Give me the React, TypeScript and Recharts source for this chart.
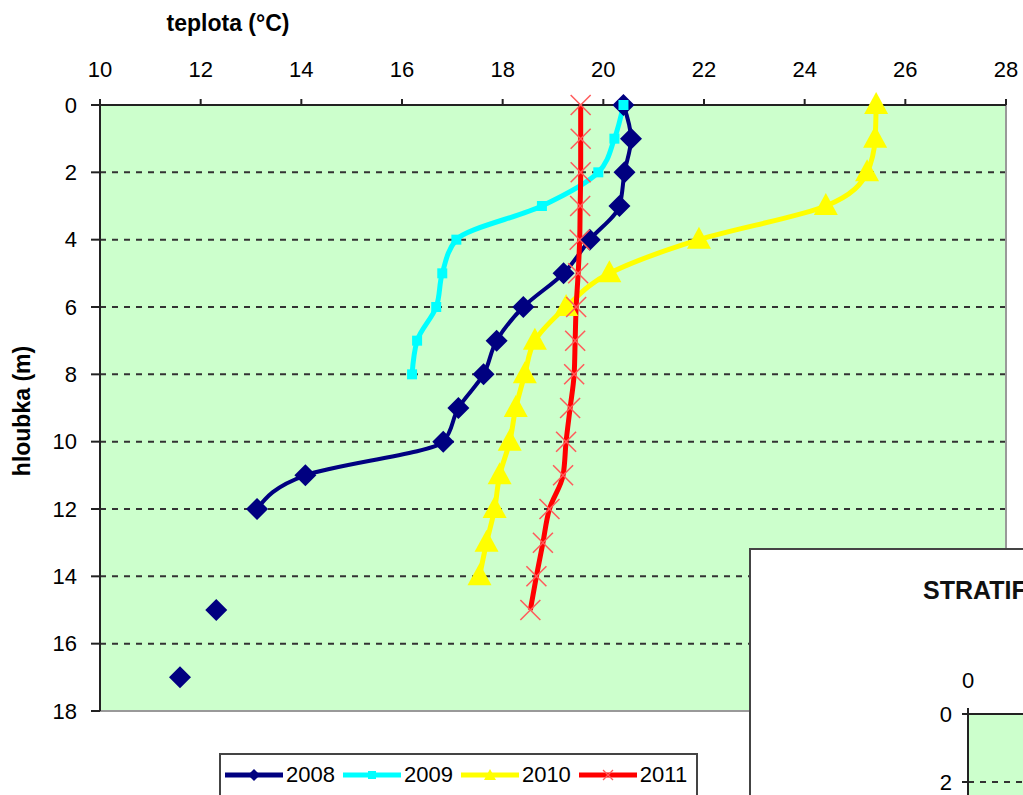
import React from 'react';
import { LineChart, Line, XAxis, YAxis, CartesianGrid, ReferenceLine, Label } from 'recharts';

// depth (m) of each measurement row
const depths = [0, 1, 2, 3, 4, 5, 6, 7, 8, 9, 10, 11, 12, 13, 14, 15, 16, 17];

// temperature (°C) per depth, null = not measured
const t2008 = [20.4, 20.55, 20.42, 20.32, 19.73, 19.21, 18.41, 17.88, 17.62, 17.12, 16.82, 14.08, 13.12, null, null, null, null, null];
// deeper 2008 readings, not joined to the profile
const t2008deep = [null, null, null, null, null, null, null, null, null, null, null, null, null, null, null, 12.31, null, 11.59];
const t2009 = [20.4, 20.22, 19.9, 18.78, 17.08, 16.8, 16.68, 16.3, 16.2, null, null, null, null, null, null, null, null, null];
const t2010 = [25.42, 25.4, 25.24, 24.42, 21.9, 20.12, 19.26, 18.64, 18.44, 18.26, 18.14, 17.94, 17.84, 17.68, 17.54, null, null, null];
const t2011 = [19.55, 19.55, 19.55, 19.54, 19.53, 19.5, 19.46, 19.44, 19.42, 19.34, 19.26, 19.2, 18.93, 18.8, 18.67, 18.55, null, null];

const tempTicks = [10, 12, 14, 16, 18, 20, 22, 24, 26, 28];
const depthTicks = [0, 2, 4, 6, 8, 10, 12, 14, 16, 18];
const gridDepths = [2, 4, 6, 8, 10, 12, 14, 16];

// the small stratification sheet underneath (only its corner shows)
const stratTempTicks = [0];
const stratDepthTicks = [0, 2];
const stratGridDepths = [2];

const rows = depths.map((d, i) => ({
  depth: d,
  y2008: t2008[i],
  y2008deep: t2008deep[i],
  y2009: t2009[i],
  y2010: t2010[i],
  y2011: t2011[i],
}));

const FONT = '"Liberation Sans", Arial, sans-serif';
const NAVY = '#000080';
const CYAN = '#00ffff';
const YELLOW = '#ffff00';
const RED = '#ff0000';

const tickStyle = { fill: '#000', fontSize: 22, fontFamily: FONT };
const axisStroke = { stroke: '#222', strokeWidth: 2 };

const isEmpty = (p: any) => p.cx == null || p.cy == null || p.value == null || Number.isNaN(p.cx);

const Diamond = (p: any) => {
  if (isEmpty(p)) return <g key={p.key} />;
  const r = 11;
  return (
    <polygon
      key={p.key}
      points={`${p.cx},${p.cy - r} ${p.cx + r},${p.cy} ${p.cx},${p.cy + r} ${p.cx - r},${p.cy}`}
      fill={NAVY}
    />
  );
};

const Square = (p: any) => {
  if (isEmpty(p)) return <g key={p.key} />;
  return <rect key={p.key} x={p.cx - 5} y={p.cy - 5} width={10} height={10} fill={CYAN} />;
};

const Triangle = (p: any) => {
  if (isEmpty(p)) return <g key={p.key} />;
  return (
    <polygon
      key={p.key}
      points={`${p.cx},${p.cy - 13} ${p.cx + 12},${p.cy + 9} ${p.cx - 12},${p.cy + 9}`}
      fill={YELLOW}
    />
  );
};

const Cross = (p: any) => {
  if (isEmpty(p)) return <g key={p.key} />;
  const r = 10;
  return (
    <g key={p.key} stroke="#ff5a5a" strokeWidth={1.5}>
      <line x1={p.cx - r} y1={p.cy - r} x2={p.cx + r} y2={p.cy + r} />
      <line x1={p.cx - r} y1={p.cy + r} x2={p.cx + r} y2={p.cy - r} />
    </g>
  );
};

const legendItems = [
  { name: '2008', color: NAVY, marker: 'diamond' },
  { name: '2009', color: CYAN, marker: 'square' },
  { name: '2010', color: YELLOW, marker: 'triangle' },
  { name: '2011', color: RED, marker: 'cross' },
];

function LegendIcon({ color, marker }: { color: string; marker: string }) {
  return (
    <svg width={58} height={14} style={{ display: 'block' }}>
      <line x1={0} y1={7} x2={58} y2={7} stroke={color} strokeWidth={5} />
      {marker === 'diamond' && <polygon points="29,1 35,7 29,13 23,7" fill={color} />}
      {marker === 'square' && <rect x={25} y={3} width={8} height={8} fill={color} />}
      {marker === 'triangle' && <polygon points="29,1 35,12 23,12" fill={color} />}
      {marker === 'cross' && (
        <g stroke="#ff5a5a" strokeWidth={1.2}>
          <line x1={24} y1={2} x2={34} y2={12} />
          <line x1={24} y1={12} x2={34} y2={2} />
        </g>
      )}
    </svg>
  );
}

export default function App() {
  return (
    <div
      style={{
        position: 'fixed',
        left: 0,
        top: 0,
        width: 1023,
        height: 795,
        overflow: 'hidden',
        background: '#fff',
        fontFamily: FONT,
      }}
    >
      <LineChart
        layout="vertical"
        width={1023}
        height={795}
        data={rows}
        margin={{ top: 75, left: 70, right: 17, bottom: 84 }}
      >
        <CartesianGrid horizontal={false} vertical={false} fill="#ccffcc" />
        {gridDepths.map((d) => (
          <ReferenceLine key={d} y={d} stroke="#333" strokeWidth={2} strokeDasharray="6 6" />
        ))}
        <ReferenceLine y={18} stroke="#999" strokeWidth={2} />
        <ReferenceLine x={28} stroke="#999" strokeWidth={2} />
        <XAxis
          type="number"
          orientation="top"
          domain={[10, 28]}
          ticks={tempTicks}
          height={30}
          tickSize={6}
          tickMargin={22}
          tick={tickStyle}
          axisLine={axisStroke}
          tickLine={axisStroke}
          interval={0}
        >
          <Label
            content={() => (
              <text x={228} y={31} textAnchor="middle" fontSize={23} fontWeight="bold" fontFamily={FONT} fill="#000">
                teplota (°C)
              </text>
            )}
          />
        </XAxis>
        <YAxis
          type="number"
          dataKey="depth"
          domain={[0, 18]}
          ticks={depthTicks}
          width={30}
          tickSize={9}
          tickMargin={14}
          tick={tickStyle}
          axisLine={axisStroke}
          tickLine={axisStroke}
          interval={0}
        >
          <Label
            content={() => (
              <text
                x={22}
                y={411}
                transform="rotate(-90 22 411)"
                textAnchor="middle"
                dominantBaseline="central"
                fontSize={23}
                fontWeight="bold"
                fontFamily={FONT}
                fill="#000"
              >
                hloubka (m)
              </text>
            )}
          />
        </YAxis>
        <Line type="monotone" dataKey="y2008" stroke={NAVY} strokeWidth={4} dot={Diamond} activeDot={false} isAnimationActive={false} />
        <Line type="monotone" dataKey="y2008deep" stroke="none" strokeWidth={0} dot={Diamond} activeDot={false} legendType="none" isAnimationActive={false} />
        <Line type="monotone" dataKey="y2009" stroke={CYAN} strokeWidth={5} dot={Square} activeDot={false} isAnimationActive={false} />
        <Line type="monotone" dataKey="y2010" stroke={YELLOW} strokeWidth={5} dot={Triangle} activeDot={false} isAnimationActive={false} />
        <Line type="monotone" dataKey="y2011" stroke={RED} strokeWidth={5} dot={Cross} activeDot={false} isAnimationActive={false} />
      </LineChart>

      {/* legend box, its lower edge runs off the page */}
      <div
        style={{
          position: 'absolute',
          left: 219,
          top: 753,
          width: 479,
          height: 60,
          border: '2px solid #444',
          boxSizing: 'border-box',
          background: '#fff',
          display: 'flex',
          alignItems: 'flex-start',
          paddingLeft: 4,
          paddingTop: 8,
        }}
      >
        {legendItems.map((it) => (
          <div key={it.name} style={{ display: 'flex', alignItems: 'center', marginRight: 8 }}>
            <LegendIcon color={it.color} marker={it.marker} />
            <span style={{ fontSize: 22, lineHeight: '24px', marginLeft: 3, color: '#000' }}>{it.name}</span>
          </div>
        ))}
      </div>

      {/* second chart sheet lying over the corner */}
      <div
        style={{
          position: 'absolute',
          left: 749,
          top: 548,
          width: 700,
          height: 500,
          border: '2px solid #444',
          background: '#fff',
        }}
      >
        <LineChart
          layout="vertical"
          width={700}
          height={500}
          data={rows}
          margin={{ top: 134, left: 187, right: 20, bottom: 30 }}
        >
          <CartesianGrid horizontal={false} vertical={false} fill="#ccffcc" />
          {stratGridDepths.map((d) => (
            <ReferenceLine key={d} y={d} stroke="#333" strokeWidth={2} strokeDasharray="6 6" />
          ))}
          <XAxis
            type="number"
            orientation="top"
            domain={[0, 30]}
            ticks={stratTempTicks}
            height={30}
            tickSize={6}
            tickMargin={20}
            tick={tickStyle}
            axisLine={axisStroke}
            tickLine={axisStroke}
          >
            <Label
              content={() => (
                <text x={172} y={49} fontSize={25} fontWeight="bold" fontFamily={FONT} fill="#111">
                  STRATIFIKACE
                </text>
              )}
            />
          </XAxis>
          <YAxis
            type="number"
            dataKey="depth"
            domain={[0, 9]}
            ticks={stratDepthTicks}
            width={30}
            tickSize={6}
            tickMargin={10}
            tick={tickStyle}
            axisLine={axisStroke}
            tickLine={axisStroke}
            allowDataOverflow
          />
          <Line type="monotone" dataKey="y2011" stroke={RED} strokeWidth={5} dot={false} activeDot={false} isAnimationActive={false} />
        </LineChart>
      </div>
    </div>
  );
}
